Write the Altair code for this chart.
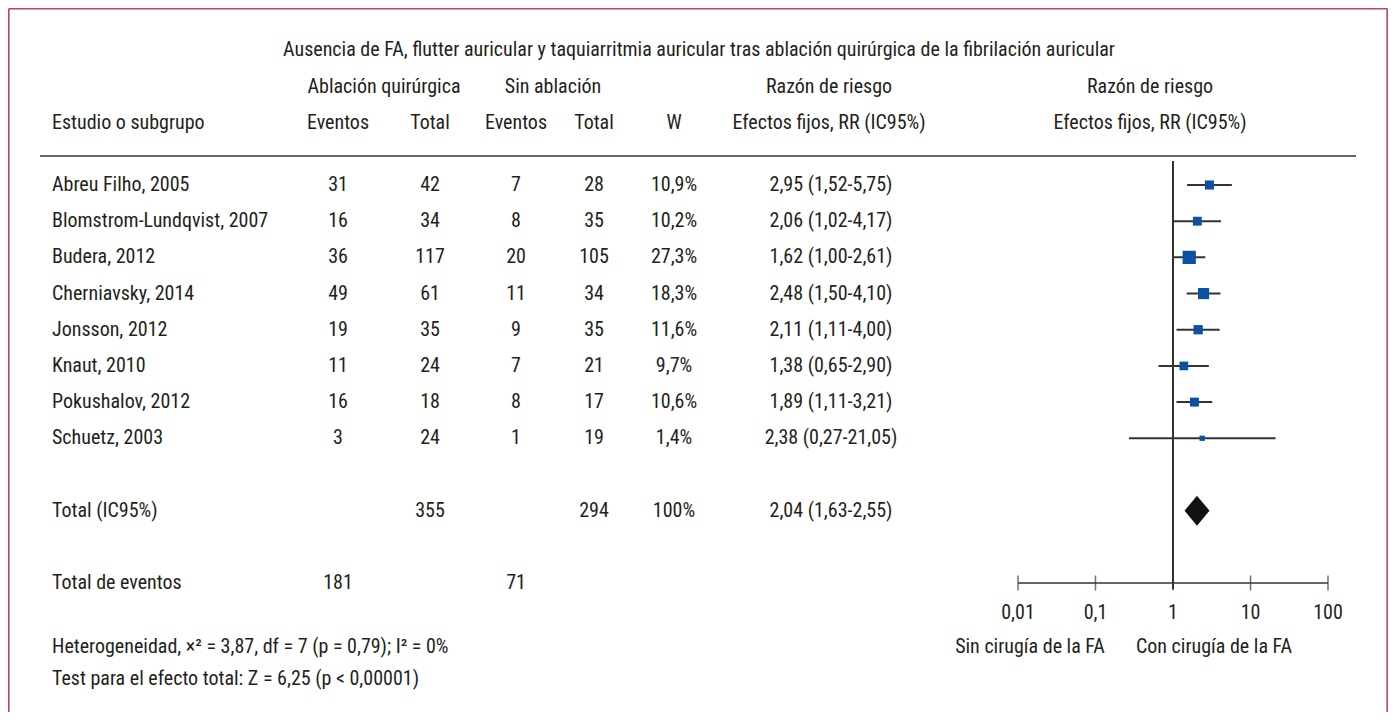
import altair as alt
import pandas as pd

# ---------------- data ----------------
studies = ["Abreu Filho, 2005", "Blomstrom-Lundqvist, 2007", "Budera, 2012",
           "Cherniavsky, 2014", "Jonsson, 2012", "Knaut, 2010",
           "Pokushalov, 2012", "Schuetz, 2003"]
ev_surg = [31, 16, 36, 49, 19, 11, 16, 3]
tot_surg = [42, 34, 117, 61, 35, 24, 18, 24]
ev_ctrl = [7, 8, 20, 11, 9, 7, 8, 1]
tot_ctrl = [28, 35, 105, 34, 35, 21, 17, 19]
weights = [10.9, 10.2, 27.3, 18.3, 11.6, 9.7, 10.6, 1.4]
rr = [2.95, 2.06, 1.62, 2.48, 2.11, 1.38, 1.89, 2.38]
rr_lo = [1.52, 1.02, 1.00, 1.50, 1.11, 0.65, 1.11, 0.27]
rr_hi = [5.75, 4.17, 2.61, 4.10, 4.00, 2.90, 3.21, 21.05]

total_label = "Total (IC95%)"
total_surg = 355
total_ctrl = 294
total_weight = 100
total_rr = 2.04
total_lo = 1.63
total_hi = 2.55

events_label = "Total de eventos"
events_surg = 181
events_ctrl = 71

null_effect = 1
axis_ticks = [0.01, 0.1, 1, 10, 100]
axis_labels = ["0,01", "0,1", "1", "10", "100"]

title_text = ("Ausencia de FA, flutter auricular y taquiarritmia auricular tras "
              "ablación quirúrgica de la fibrilación auricular")
group_headers = ["Ablación quirúrgica", "Sin ablación", "Razón de riesgo", "Razón de riesgo"]
col_headers = ["Estudio o subgrupo", "Eventos", "Total", "Eventos", "Total", "W",
               "Efectos fijos, RR (IC95%)", "Efectos fijos, RR (IC95%)"]
favours = ["Sin cirugía de la FA", "Con cirugía de la FA"]
footnotes = ["Heterogeneidad, \u00d7\u00b2 = 3,87, df = 7 (p = 0,79); I\u00b2 = 0%",
             "Test para el efecto total: Z = 6,25 (p < 0,00001)"]

# ---------------- styling ----------------
FONT = "Liberation Sans Narrow, Arial Narrow, Roboto Condensed, Roboto, sans-serif"
FS = 20
TXT = "#231f20"
LINE = "#333333"
BLUE = "#0b50a2"
BORDER = "#b5475f"


def fmt2(v):
    return f"{v:.2f}".replace(".", ",")


def fmt_w(v):
    if float(v).is_integer():
        return f"{int(v)}%"
    return f"{v:.1f}".replace(".", ",") + "%"


n = len(studies)
row_total = n + 1
row_events = n + 3

table = pd.DataFrame({
    "row": list(range(n)) + [row_total, row_events],
    "name": studies + [total_label, events_label],
    "ev1": [str(v) for v in ev_surg] + ["", str(events_surg)],
    "tot1": [str(v) for v in tot_surg] + [str(total_surg), ""],
    "ev2": [str(v) for v in ev_ctrl] + ["", str(events_ctrl)],
    "tot2": [str(v) for v in tot_ctrl] + [str(total_ctrl), ""],
    "w": [fmt_w(v) for v in weights] + [fmt_w(total_weight), ""],
    "rrtxt": [f"{fmt2(a)} ({fmt2(b)}-{fmt2(c)})" for a, b, c in zip(rr, rr_lo, rr_hi)]
             + [f"{fmt2(total_rr)} ({fmt2(total_lo)}-{fmt2(total_hi)})", ""],
})

forest = pd.DataFrame({"row": list(range(n)), "rr": rr, "lo": rr_lo, "hi": rr_hi,
                       "weight": weights})
pooled = pd.DataFrame({"row": [row_total], "rr": [total_rr]})
ticks = pd.DataFrame({"tick": axis_ticks, "label": axis_labels,
                      "row": [row_events] * len(axis_ticks)})
axis_line = pd.DataFrame({"x0": [axis_ticks[0]], "x1": [axis_ticks[-1]], "row": [row_events]})
ref_line = pd.DataFrame({"ref": [null_effect]})

OX, OY = 8, 8  # page margin -> plot coordinates
W_PLOT, H_PLOT = 1380, 704
yscale = alt.Scale(domain=[0, row_events], range=[185 - OY, 583 - OY])
xscale = alt.Scale(type="log", domain=[0.01, 100], range=[1018 - OX, 1328 - OX])
Y = alt.Y("row:Q", scale=yscale, axis=None)

dummy = pd.DataFrame({"a": [1]})


def label(text, px, py, align="center"):
    return alt.Chart(dummy).mark_text(text=text, align=align, baseline="middle",
                                      font=FONT, fontSize=FS, color=TXT).encode(
        x=alt.value(px - OX), y=alt.value(py - OY))


def hrule(x0, x1, y, color, sw):
    return alt.Chart(dummy).mark_rule(color=color, strokeWidth=sw).encode(
        x=alt.value(x0), x2=alt.value(x1), y=alt.value(y))


def vrule(x, y0, y1, color, sw):
    return alt.Chart(dummy).mark_rule(color=color, strokeWidth=sw).encode(
        x=alt.value(x), y=alt.value(y0), y2=alt.value(y1))


layers = []

# frame (open at the bottom, as in the reference crop)
RIGHT = W_PLOT - 0.8
layers.append(hrule(0.8, RIGHT, 0.8, BORDER, 1.6))
layers.append(vrule(0.8, 0.8, H_PLOT, BORDER, 1.6))
layers.append(vrule(RIGHT, 0.8, H_PLOT, BORDER, 1.6))

# header rule
layers.append(hrule(40 - OX, 1356 - OX, 156 - OY, LINE, 1.5))

# headers
layers.append(label(title_text, 699, 50))
for txt, px in zip(group_headers, [384, 553, 829, 1150]):
    layers.append(label(txt, px, 87))
for txt, px, al in zip(col_headers, [52, 338, 430, 516, 594, 674, 829, 1150],
                       ["left", "center", "center", "center", "center", "center", "center", "center"]):
    layers.append(label(txt, px, 123, align=al))

# table cells
base = alt.Chart(table)
for col, px, al in [("name", 52, "left"), ("ev1", 338, "center"), ("tot1", 430, "center"),
                    ("ev2", 516, "center"), ("tot2", 594, "center"), ("w", 674, "center"),
                    ("rrtxt", 831, "center")]:
    layers.append(base.mark_text(align=al, baseline="middle", font=FONT, fontSize=FS, color=TXT).encode(
        x=alt.value(px - OX), y=Y, text=alt.Text(f"{col}:N")))

# forest plot: line of no effect
layers.append(alt.Chart(ref_line).mark_rule(color=LINE, strokeWidth=2).encode(
    x=alt.X("ref:Q", scale=xscale, axis=None), y=alt.value(161 - OY), y2=alt.value(589 - OY)))

# CI whiskers
fb = alt.Chart(forest)
layers.append(fb.mark_rule(color=LINE, strokeWidth=2).encode(
    x=alt.X("lo:Q", scale=xscale, axis=None), x2="hi:Q", y=Y))
# squares
layers.append(fb.mark_square(filled=True, color=BLUE, opacity=1).encode(
    x=alt.X("rr:Q", scale=xscale, axis=None), y=Y,
    size=alt.Size("weight:Q", scale=alt.Scale(domain=[1.4, 27.3], range=[28, 175]), legend=None)))

# pooled diamond
layers.append(alt.Chart(pooled).mark_point(
    shape="M0,-1L0.83,0L0,1L-0.83,0Z", filled=True, color="#111111", opacity=1, size=900).encode(
    x=alt.X("rr:Q", scale=xscale, axis=None), y=Y))

# axis
layers.append(alt.Chart(axis_line).mark_rule(color=LINE, strokeWidth=1.5).encode(
    x=alt.X("x0:Q", scale=xscale, axis=None), x2="x1:Q", y=Y))
tb = alt.Chart(ticks)
layers.append(tb.mark_tick(orient="vertical", size=15, thickness=1.5, color=LINE).encode(
    x=alt.X("tick:Q", scale=xscale, axis=None), y=Y))
layers.append(tb.mark_text(baseline="middle", dy=30, font=FONT, fontSize=FS, color=TXT).encode(
    x=alt.X("tick:Q", scale=xscale, axis=None), y=Y, text="label:N"))

# favours labels
layers.append(label(favours[0], 1030, 647))
layers.append(label(favours[1], 1214, 647))

# footnotes
layers.append(label(footnotes[0], 52, 647, align="left"))
layers.append(label(footnotes[1], 52, 679, align="left"))

chart = alt.layer(*layers).properties(
    width=W_PLOT, height=H_PLOT, padding=0, autosize=alt.AutoSizeParams(type="none")
).configure_view(stroke=None).configure(background="white")

chart.save("out.html", embed_options={"renderer": "svg", "actions": False})
